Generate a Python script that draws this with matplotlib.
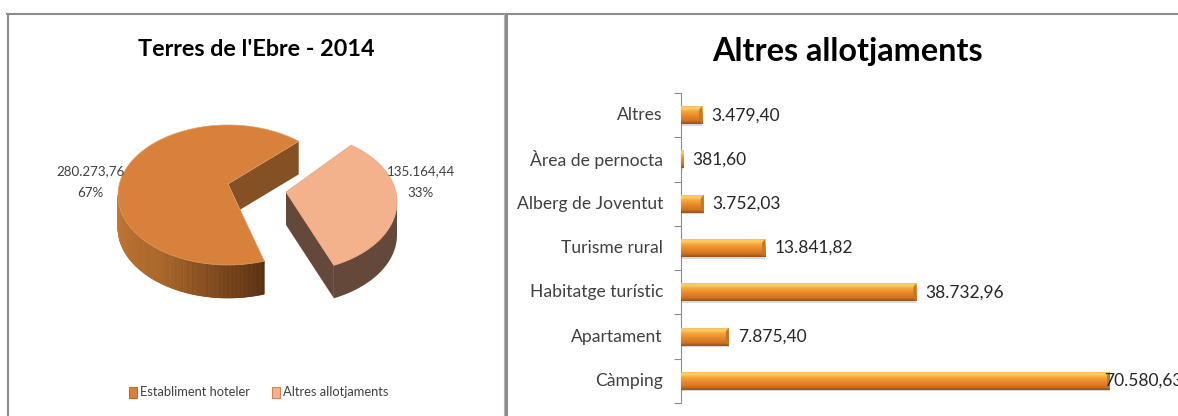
import numpy as np
import matplotlib
matplotlib.use('Agg')
import matplotlib.pyplot as plt
from matplotlib.patches import Polygon, Rectangle
from matplotlib.colors import LinearSegmentedColormap
from matplotlib.transforms import ScaledTranslation

# pie data
pie_labels = ['Establiment hoteler', 'Altres allotjaments']
pie_values = [280273.76, 135164.44]
pie_value_text = ['280.273,76', '135.164,44']
pie_pct_text = ['67%', '33%']

# bar data
bar_labels = ['Càmping', 'Apartament', 'Habitatge turístic', 'Turisme rural',
              'Alberg de Joventut', 'Àrea de pernocta', 'Altres']
bar_values = [70580.63, 7875.40, 38732.96, 13841.82, 3752.03, 381.60, 3479.40]
bar_text = ['70.580,63', '7.875,40', '38.732,96', '13.841,82',
            '3.752,03', '381,60', '3.479,40']

W, H = 1178, 416
FONT = ['Lato', 'DejaVu Sans']

fig = plt.figure(figsize=(W / 100, H / 100), dpi=100)

# background axes in pixel units, used for frames and the pie
ax = fig.add_axes([0, 0, 1, 1])
ax.set_xlim(0, W)
ax.set_ylim(H, 0)
ax.axis('off')

# panel frames
ax.plot([7.5, 7.5], [H, 14], color='#8c8c8c', lw=1.5)
ax.plot([7, W], [14, 14], color='#8c8c8c', lw=1.5)
ax.plot([503.5, 503.5], [14, H], color='#b5b5b5', lw=0.8)
ax.plot([506, 506], [14, H], color='#8c8c8c', lw=2.2)

ax.text(256, 50, "Terres de l'Ebre - 2014", family=FONT, fontsize=16.8,
        fontweight='bold', ha='center', va='center', color='black')
ax.text(847, 51, 'Altres allotjaments', family=FONT, fontsize=23.3,
        fontweight='bold', ha='center', va='center', color='black')

# 3D pie, angles come from the values (0.985 = perspective squeeze of the big slice)
rx, ry, depth = 110, 70, 33
start = 50
sweep = 360 * pie_values[0] / sum(pie_values) * 0.985
end = start + sweep


def arc(cx, cy, a0, a1, n=120):
    t = np.radians(np.linspace(a0, a1, n))
    return np.column_stack([cx + rx * np.cos(t), cy - ry * np.sin(t)])


def line_cross(p1, p2, p3, p4):
    d1, d2 = p2 - p1, p4 - p3
    s = (d2[1] * (p3 - p1)[0] - d2[0] * (p3 - p1)[1]) / (d2[1] * d1[0] - d2[0] * d1[1])
    return p1 + s * d1


# big slice
c1 = (228, 195)
apex1 = np.array([228.0, 184.0])
top1 = arc(c1[0], c1[1], start, end)
down = np.array([0, depth])
cross = line_cross(apex1, top1[-1], apex1 + down, top1[0] + down)
ax.add_patch(Polygon([apex1, top1[0], top1[0] + down, cross],
                     fc='#855124', ec='none', zorder=2))
# outer wall as thin strips, lighter on the left
side_cmap = LinearSegmentedColormap.from_list('side', ['#c47a38', '#a86428', '#5a3010'])
wall = arc(c1[0], c1[1], 180, end, 160)
for i in range(len(wall) - 1):
    a, b = wall[i], wall[i + 1]
    ax.add_patch(Polygon([a, b, b + down, a + down], fc=side_cmap(i / 158),
                         ec=side_cmap(i / 158), lw=0.5, zorder=2))
ax.add_patch(Polygon(np.vstack([apex1, top1]), fc='#d8813b', ec='#e09a60',
                     lw=0.5, zorder=3))

# small slice
c2 = (287, 202)
apex2 = np.array([286.0, 192.0])
small_start = end + 6
small_end = small_start + 360 * pie_values[1] / sum(pie_values) + 2
top2 = arc(c2[0], c2[1], small_start, small_end)
ax.add_patch(Polygon([apex2, top2[0], top2[0] + down, apex2 + down],
                     fc='#64493a', ec='none', zorder=2))
wall2 = arc(c2[0], c2[1], small_start, 360, 80)
ax.add_patch(Polygon(np.vstack([wall2, wall2[::-1] + down]), fc='#64493a',
                     ec='none', zorder=2))
ax.add_patch(Polygon(np.vstack([apex2, top2]), fc='#f4b28c', ec='#e8a47c',
                     lw=0.5, zorder=3))

# pie labels
for x, val, pct in zip([90, 421], pie_value_text, pie_pct_text):
    ax.text(x, 171, val, family=FONT, fontsize=9.6, ha='center', va='center',
            color='#404040', zorder=4)
    ax.text(x, 193, pct, family=FONT, fontsize=9.6, ha='center', va='center',
            color='#404040', zorder=4)

# legend
for x, col, edge, lab in zip([129, 272], ['#d8813b', '#f4b28c'],
                             ['#c06c28', '#d8814e'], pie_labels):
    ax.add_patch(Rectangle((x, 387), 8, 11, fc=col, ec=edge, lw=0.8))
    ax.text(x + 11, 392.5, lab, family=FONT, fontsize=9.3, ha='left',
            va='center', color='#404040')

# bar chart
left, top, bottom = 681, 93, 403
scale = (1110 - 681) / bar_values[0]
bx = fig.add_axes([left / W, 1 - bottom / H, (W - left) / W, (bottom - top) / H])
bx.patch.set_alpha(0)

bar_h = 18 / ((bottom - top) / len(bar_values))
grad_cmap = LinearSegmentedColormap.from_list(
    'bevel', [(0, '#f6b878'), (0.1, '#ffd25e'), (0.3, '#f5a53a'), (0.55, '#e8882a'),
              (0.82, '#d0741f'), (1, '#8e5220')])
grad = np.linspace(0, 1, 64).reshape(-1, 1)
ypos = np.arange(len(bar_values))

# soft shadow under the bars
bx.barh(ypos - 0.035, bar_values, height=bar_h, color='#d9d9d9', zorder=1)
bars = bx.barh(ypos, bar_values, height=bar_h, color='#e6872a', zorder=2)
for b, v in zip(bars, bar_values):
    y0 = b.get_y()
    im = bx.imshow(grad, extent=[0, v, y0, y0 + bar_h], origin='upper',
                   cmap=grad_cmap, aspect='auto', zorder=3)
    im.set_clip_path(b)
    # bevelled right end
    e = 3 / scale
    if v > 2 * e:
        bx.add_patch(Polygon([[v, y0], [v, y0 + bar_h], [v - e, y0 + 0.8 * bar_h],
                              [v - e, y0 + 0.2 * bar_h]], fc='#c87622', ec='none', zorder=4))
bx.set_xlim(0, (W - left) / scale)
bx.set_ylim(-0.5, len(bar_values) - 0.5)

for y, v, t in zip(ypos, bar_values, bar_text):
    bx.annotate(t, (v, y), xytext=(9, 0) if v < 70000 else (-6, 0),
                textcoords='offset pixels', family=FONT, fontsize=12.5, ha='left',
                va='center', color='#262626', zorder=5, annotation_clip=False)

for s in ['top', 'right', 'bottom']:
    bx.spines[s].set_visible(False)
bx.spines['left'].set_color('#8c8c8c')
bx.spines['left'].set_linewidth(0.8)
bx.set_xticks([])
bx.set_yticks(np.arange(len(bar_values) + 1) - 0.5, minor=False)
bx.set_yticklabels([])
bx.tick_params(axis='y', length=5, width=0.8, color='#8c8c8c', direction='out')
bx.set_yticks(ypos, labels=bar_labels, minor=True)
bx.tick_params(axis='y', which='minor', length=0, pad=13, labelsize=12.6,
               labelcolor='#404040')
# labels sit a little above the bar centre
lift = ScaledTranslation(0, 1.5 / 100, fig.dpi_scale_trans)
for lab in bx.get_yticklabels(minor=True):
    lab.set_family(FONT)
    lab.set_transform(lab.get_transform() + lift)

fig.savefig('out.png', dpi=100)
